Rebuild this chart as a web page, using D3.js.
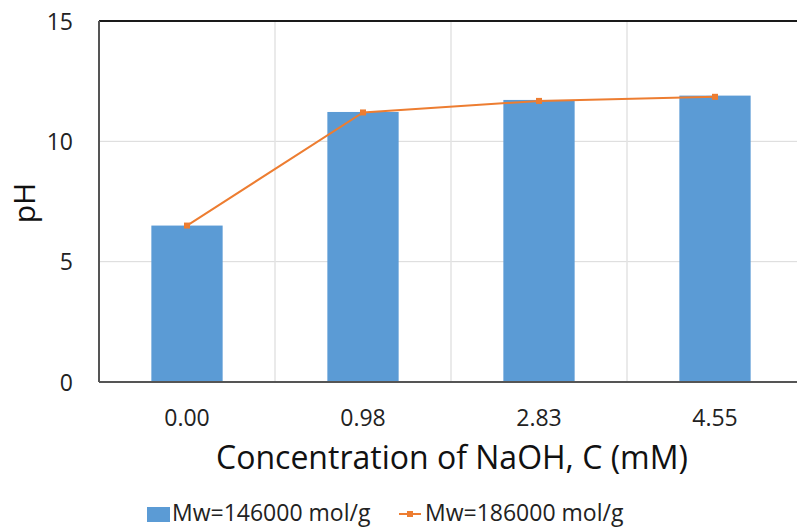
<!DOCTYPE html>
<html>
<head>
<meta charset="utf-8">
<script src="https://cdn.jsdelivr.net/npm/d3@7"></script>
<style>
  html, body { margin: 0; padding: 0; background: #fff; }
  svg { display: block; font-family: "Open Sans", "Liberation Sans", sans-serif; }
</style>
</head>
<body>
<svg id="chart" width="797" height="529"></svg>
<script>
// NaOH concentrations (mM) and measured pH for two polymer molecular weights
const categories = ["0.00", "0.98", "2.83", "4.55"];
const phLowMw = [6.5, 11.22, 11.72, 11.9];    // Mw=146000 mol/g (bars)
const phHighMw = [6.5, 11.2, 11.68, 11.85];   // Mw=186000 mol/g (line)
const yTicks = [0, 5, 10, 15];
const seriesNames = ["Mw=146000 mol/g", "Mw=186000 mol/g"];

(function draw() {
  const svg = d3.select("#chart");
  const plotLeft = 99, plotTop = 21, plotBottom = 382, plotRight = 803;
  const barColor = "#5b9bd5", lineColor = "#ed7d31";
  const fontFamily = "Open Sans, Liberation Sans, sans-serif";

  const x = d3.scaleBand().domain(categories).range([plotLeft, plotRight]).paddingInner(0).paddingOuter(0);
  const y = d3.scaleLinear().domain([0, 15]).range([plotBottom, plotTop]);

  // gridlines
  svg.append("g").selectAll("line").data(yTicks.filter(t => t > 0 && t < 15)).join("line")
    .attr("x1", plotLeft).attr("x2", plotRight)
    .attr("y1", d => y(d)).attr("y2", d => y(d))
    .attr("stroke", "#d9d9d9").attr("stroke-width", 1);
  svg.append("g").selectAll("line").data(categories.slice(1)).join("line")
    .attr("x1", d => x(d)).attr("x2", d => x(d))
    .attr("y1", plotTop).attr("y2", plotBottom)
    .attr("stroke", "#e3e3e3").attr("stroke-width", 1.5);

  // bars
  const barW = x.bandwidth() * 0.405;
  svg.append("g").selectAll("rect").data(phLowMw).join("rect")
    .attr("x", (d, i) => x(categories[i]) + x.bandwidth() / 2 - barW / 2)
    .attr("width", barW)
    .attr("y", d => y(d))
    .attr("height", d => y(0) - y(d))
    .attr("fill", barColor);

  // line series
  const line = d3.line()
    .x((d, i) => x(categories[i]) + x.bandwidth() / 2)
    .y(d => y(d));
  svg.append("path").datum(phHighMw)
    .attr("d", line).attr("fill", "none")
    .attr("stroke", lineColor).attr("stroke-width", 2);
  svg.append("g").selectAll("rect").data(phHighMw).join("rect")
    .attr("x", (d, i) => x(categories[i]) + x.bandwidth() / 2 - 3)
    .attr("y", d => y(d) - 3)
    .attr("width", 6).attr("height", 6)
    .attr("fill", lineColor);

  // frame: top border, left and bottom axes
  svg.append("line").attr("x1", plotLeft).attr("x2", plotRight).attr("y1", plotTop).attr("y2", plotTop)
    .attr("stroke", "#1a1a1a").attr("stroke-width", 2);
  svg.append("line").attr("x1", plotLeft).attr("x2", plotLeft).attr("y1", plotTop).attr("y2", plotBottom)
    .attr("stroke", "#555").attr("stroke-width", 2);
  svg.append("line").attr("x1", plotLeft).attr("x2", plotRight).attr("y1", plotBottom).attr("y2", plotBottom)
    .attr("stroke", "#555").attr("stroke-width", 2);

  // axes tick labels
  const yAxis = d3.axisLeft(y).tickValues(yTicks).tickSize(0).tickPadding(26);
  const gy = svg.append("g").attr("transform", `translate(${plotLeft},0)`).call(yAxis);
  gy.select(".domain").remove();
  gy.attr("font-family", fontFamily).attr("font-size", 23);
  gy.selectAll("text").attr("fill", "#222").attr("dy", "0.36em");

  const xAxis = d3.axisBottom(x).tickSize(0);
  const gx = svg.append("g").attr("transform", `translate(0,${plotBottom})`).call(xAxis);
  gx.select(".domain").remove();
  gx.attr("font-family", fontFamily).attr("font-size", 23);
  gx.selectAll("text").attr("fill", "#222").attr("y", 44).attr("dy", null);

  // axis titles
  svg.append("text").attr("x", 452).attr("y", 469).attr("text-anchor", "middle")
    .attr("font-size", 32).attr("fill", "#111").text("Concentration of NaOH, C (mM)");
  svg.append("text").attr("transform", "translate(35,203) rotate(-90)").attr("text-anchor", "middle")
    .attr("font-size", 30).attr("fill", "#111").text("pH");

  // legend
  const lg = svg.append("g").attr("font-size", 23).attr("fill", "#222");
  lg.append("rect").attr("x", 147).attr("y", 507).attr("width", 23).attr("height", 15).attr("fill", barColor);
  lg.append("text").attr("x", 172).attr("y", 521).text(seriesNames[0]);
  lg.append("line").attr("x1", 399).attr("x2", 421).attr("y1", 514).attr("y2", 514)
    .attr("stroke", lineColor).attr("stroke-width", 2);
  lg.append("rect").attr("x", 407).attr("y", 511).attr("width", 6).attr("height", 6).attr("fill", lineColor);
  lg.append("text").attr("x", 425).attr("y", 521).text(seriesNames[1]);
})();
</script>
</body>
</html>
